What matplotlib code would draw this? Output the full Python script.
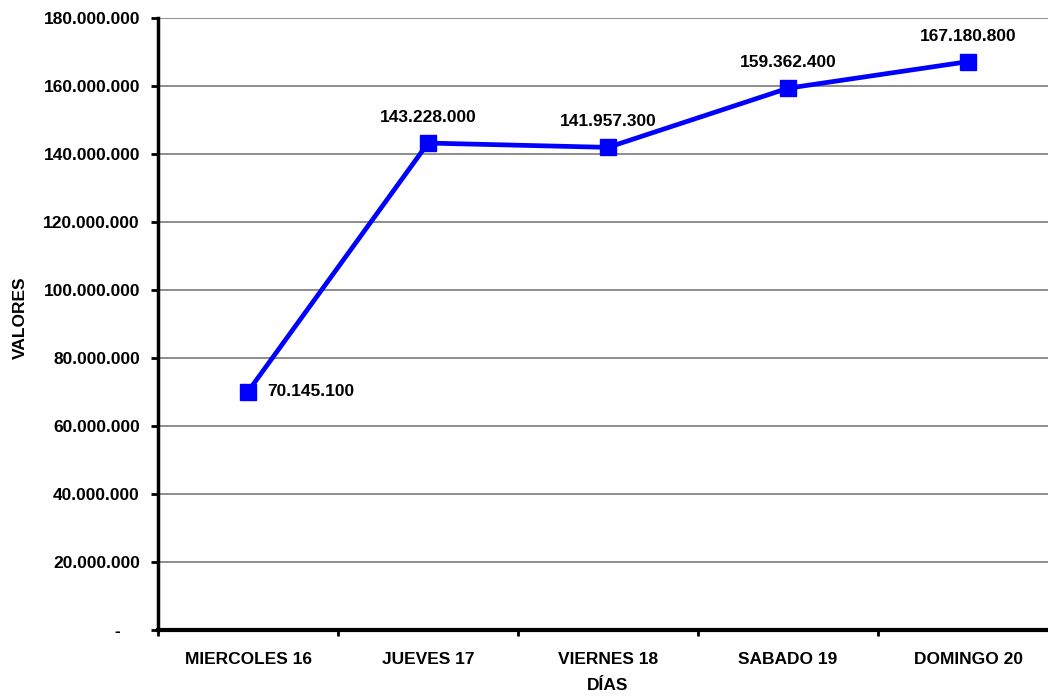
import numpy as np
import matplotlib.pyplot as plt
from matplotlib.ticker import FuncFormatter

plt.rcParams['font.family'] = ['Liberation Sans', 'DejaVu Sans']
plt.rcParams['font.weight'] = 'bold'

dias = ['MIERCOLES 16', 'JUEVES 17', 'VIERNES 18', 'SABADO 19', 'DOMINGO 20']
valores = [70145100, 143228000, 141957300, 159362400, 167180800]

FS = 12.5


def miles(v, pos=None):
    if v == 0:
        return '-    '
    return '{:,.0f}'.format(v).replace(',', '.')


fig = plt.figure(figsize=(10.48, 6.99), dpi=100)
# el área del gráfico se sale un poco por la derecha, como en el original
ax = fig.add_axes([0.1508, 0.0987, 0.8588, 0.8755])

x = np.arange(len(dias))
ax.plot(x, valores, color='#0000FF', lw=3.4, marker='s', ms=11,
        markerfacecolor='#0000FF', markeredgecolor='#0000FF', clip_on=False)

# etiquetas de datos
for i, v in enumerate(valores):
    if i == 0:
        ax.annotate(miles(v), (i, v), xytext=(14, 0), textcoords='offset points',
                    ha='left', va='center', fontsize=FS, fontweight='bold')
    else:
        ax.annotate(miles(v), (i, v), xytext=(0, 13), textcoords='offset points',
                    ha='center', va='bottom', fontsize=FS, fontweight='bold')

ax.set_xlim(-0.5, len(dias) - 0.5)
ax.set_ylim(0, 180000000)
ax.set_yticks(np.arange(0, 180000001, 20000000))
ax.yaxis.set_major_formatter(FuncFormatter(miles))
ax.yaxis.grid(True, color='#6f6f6f', lw=1.1)
ax.set_axisbelow(True)

# ticks en los bordes de categoría, etiquetas al centro
ax.set_xticks(np.arange(-0.5, len(dias), 1))
ax.set_xticklabels([])
ax.set_xticks(x, minor=True)
ax.set_xticklabels(dias, minor=True)
ax.tick_params(axis='x', which='minor', length=0, pad=16, labelsize=FS)
ax.tick_params(axis='x', which='major', length=4, width=2, direction='out')
ax.tick_params(axis='y', length=5, width=2, direction='out', pad=8, labelsize=FS)

for s in ['top', 'right']:
    ax.spines[s].set_visible(False)
ax.spines['left'].set_linewidth(2.5)
ax.spines['bottom'].set_linewidth(3)

ax.set_xlabel('DÍAS', fontsize=FS, fontweight='bold', labelpad=8)
ax.set_ylabel('VALORES', fontsize=FS, fontweight='bold')
ax.yaxis.set_label_coords(-0.145, 0.51)

fig.savefig('out.png', dpi=100)
